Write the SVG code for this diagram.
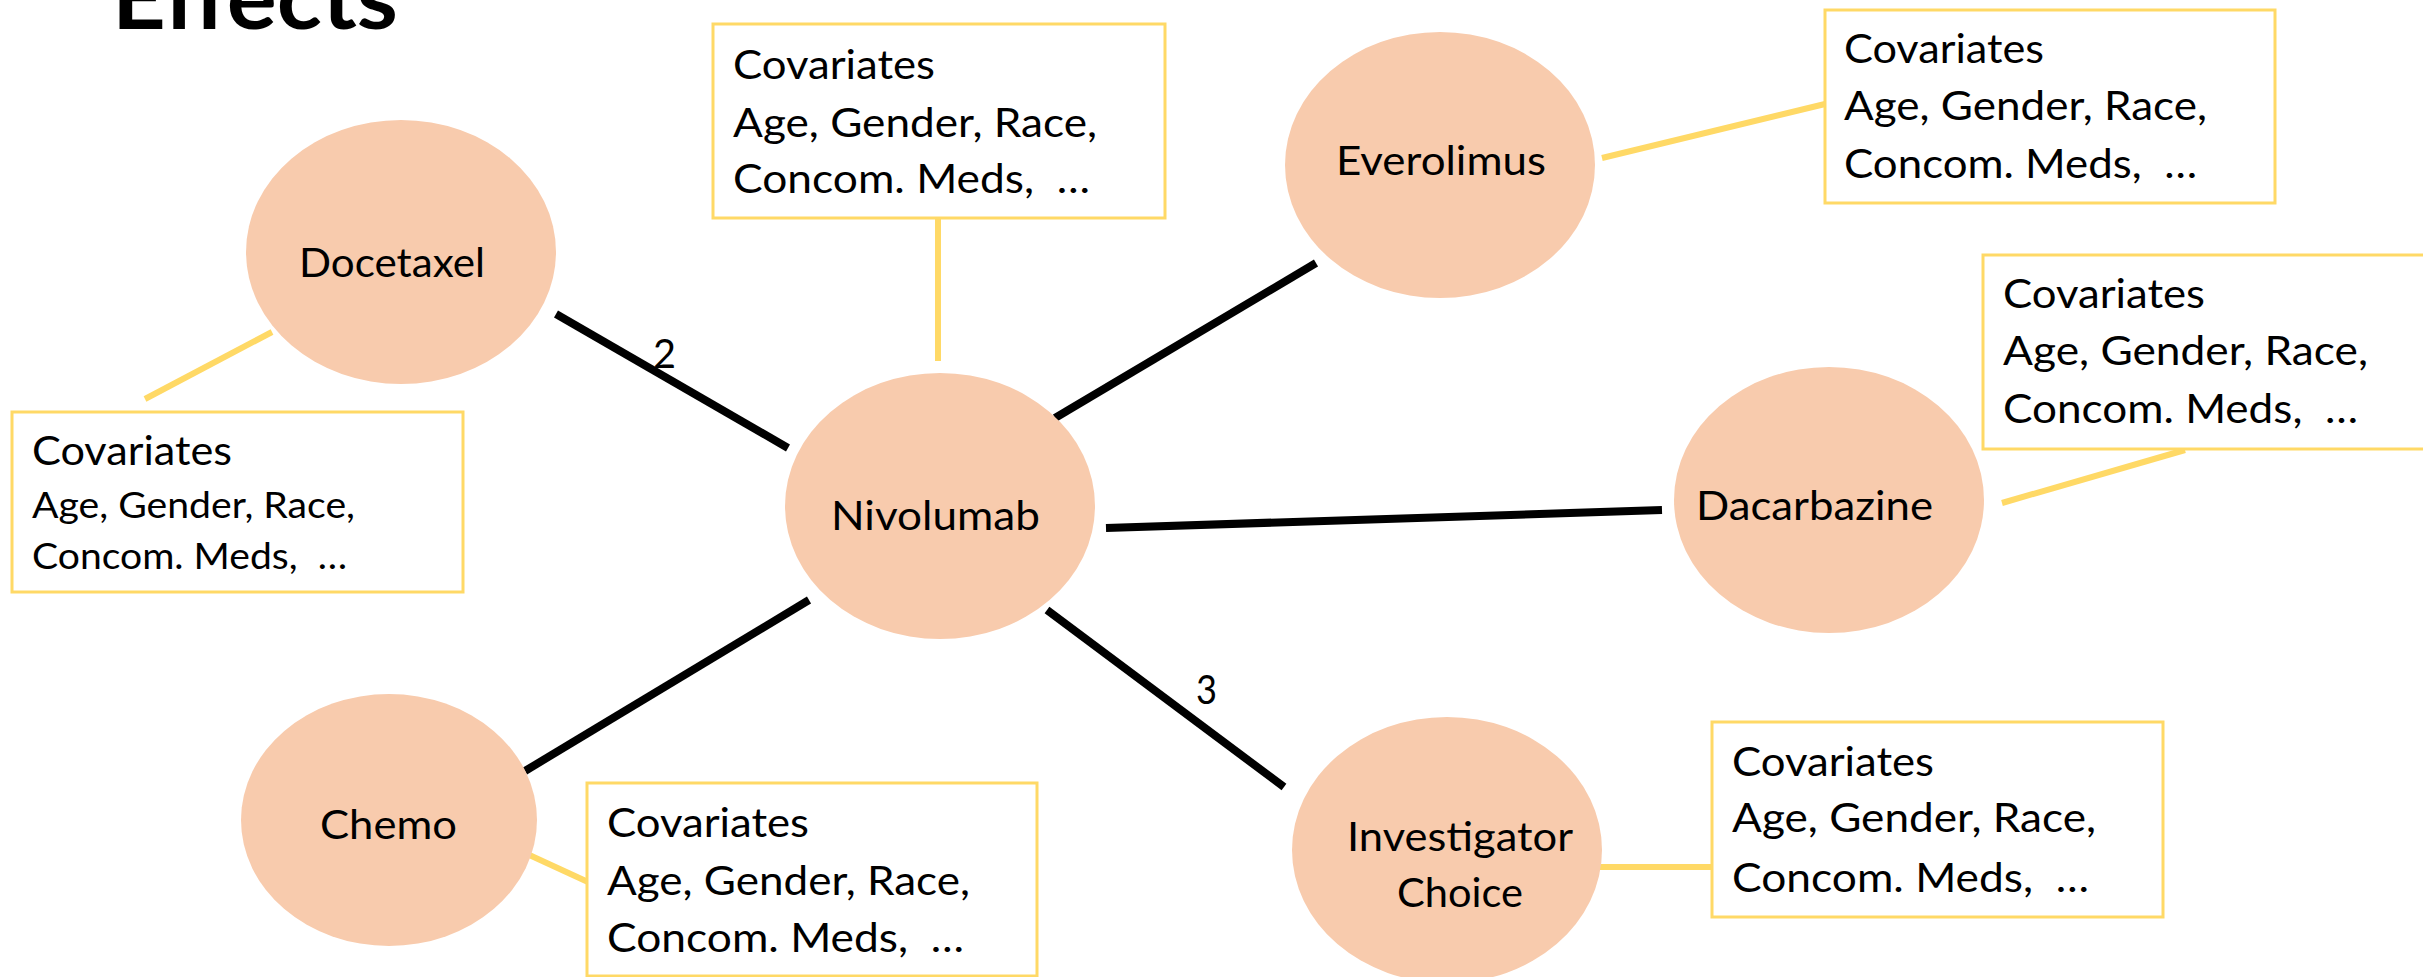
<svg xmlns="http://www.w3.org/2000/svg" width="2423" height="977" viewBox="0 0 2423 977">
<style>
.bg{fill:#ffffff}
.node{fill:#F8CBAD}
.box{fill:#ffffff;stroke:#FFD966;stroke-width:3}
.edge{stroke:#000000;stroke-width:8;stroke-linecap:butt;fill:none}
.link{stroke:#FFD966;stroke-width:6;stroke-linecap:butt;fill:none}
text{font-family:Lato,"Open Sans","Liberation Sans",sans-serif;fill:#000000}
.lbl{font-size:41.5px}
.big{font-size:41.5px}
.small{font-size:37px}
.title{font-size:88px;font-weight:bold}
</style>
<rect class="bg" x="0" y="0" width="2423" height="977"/>
<text id="title" class="title" x="112" y="29" textLength="286" lengthAdjust="spacingAndGlyphs">Effects</text>
<g id="connectors">
<line class="edge" x1="556" y1="314" x2="788" y2="448"/>
<line class="edge" x1="1055" y1="418" x2="1316" y2="263"/>
<line class="edge" x1="1106" y1="528" x2="1662" y2="510"/>
<line class="edge" x1="809" y1="600" x2="525" y2="771"/>
<line class="edge" x1="1047" y1="610" x2="1284" y2="787"/>
<line class="link" x1="272" y1="332" x2="145" y2="399"/>
<line class="link" x1="938" y1="218" x2="938" y2="361"/>
<line class="link" x1="1602" y1="158" x2="1825" y2="104"/>
<line class="link" x1="2002" y1="503" x2="2185" y2="450"/>
<line class="link" x1="525" y1="853" x2="588" y2="882"/>
<line class="link" x1="1593" y1="867" x2="1712" y2="867"/>
<text class="lbl" x="653" y="368" textLength="23" lengthAdjust="spacingAndGlyphs">2</text>
<text class="lbl" x="1196" y="704" textLength="21" lengthAdjust="spacingAndGlyphs">3</text>
</g>
<g id="docetaxel">
<ellipse class="node" cx="401" cy="252" rx="155" ry="132"/>
<text class="lbl" x="299" y="277" textLength="186" lengthAdjust="spacingAndGlyphs">Docetaxel</text>
</g>
<g id="nivolumab">
<ellipse class="node" cx="940" cy="506" rx="155" ry="133"/>
<text class="lbl" x="831" y="530" textLength="209" lengthAdjust="spacingAndGlyphs">Nivolumab</text>
</g>
<g id="everolimus">
<ellipse class="node" cx="1440" cy="165" rx="155" ry="133"/>
<text class="lbl" x="1336" y="175" textLength="210" lengthAdjust="spacingAndGlyphs">Everolimus</text>
</g>
<g id="dacarbazine">
<ellipse class="node" cx="1829" cy="500" rx="155" ry="133"/>
<text class="lbl" x="1696" y="520" textLength="237" lengthAdjust="spacingAndGlyphs">Dacarbazine</text>
</g>
<g id="chemo">
<ellipse class="node" cx="389" cy="820" rx="148" ry="126"/>
<text class="lbl" x="320" y="839" textLength="137" lengthAdjust="spacingAndGlyphs">Chemo</text>
</g>
<g id="investigator">
<ellipse class="node" cx="1447" cy="850" rx="155" ry="133"/>
<text class="lbl" x="1347" y="851" textLength="226" lengthAdjust="spacingAndGlyphs">Investigator</text>
<text class="lbl" x="1397" y="907" textLength="126" lengthAdjust="spacingAndGlyphs">Choice</text>
</g>
<g id="cov-docetaxel">
<rect class="box" x="12" y="412" width="451" height="180"/>
<text class="big" x="32" y="465" textLength="200" lengthAdjust="spacingAndGlyphs">Covariates</text>
<text class="small" x="32" y="518" textLength="323" lengthAdjust="spacingAndGlyphs">Age, Gender, Race,</text>
<text class="small" x="32" y="569" textLength="315" lengthAdjust="spacingAndGlyphs" xml:space="preserve">Concom. Meds,  …</text>
</g>
<g id="cov-nivolumab">
<rect class="box" x="713" y="24" width="452" height="194"/>
<text class="big" x="733" y="79" textLength="202" lengthAdjust="spacingAndGlyphs">Covariates</text>
<text class="big" x="733" y="137" textLength="364" lengthAdjust="spacingAndGlyphs">Age, Gender, Race,</text>
<text class="big" x="733" y="193" textLength="357" lengthAdjust="spacingAndGlyphs" xml:space="preserve">Concom. Meds,  …</text>
</g>
<g id="cov-everolimus">
<rect class="box" x="1825" y="10" width="450" height="193"/>
<text class="big" x="1844" y="63" textLength="200" lengthAdjust="spacingAndGlyphs">Covariates</text>
<text class="big" x="1844" y="120" textLength="363" lengthAdjust="spacingAndGlyphs">Age, Gender, Race,</text>
<text class="big" x="1844" y="178" textLength="353" lengthAdjust="spacingAndGlyphs" xml:space="preserve">Concom. Meds,  …</text>
</g>
<g id="cov-dacarbazine">
<rect class="box" x="1983" y="255" width="452" height="194"/>
<text class="big" x="2003" y="308" textLength="202" lengthAdjust="spacingAndGlyphs">Covariates</text>
<text class="big" x="2003" y="365" textLength="365" lengthAdjust="spacingAndGlyphs">Age, Gender, Race,</text>
<text class="big" x="2003" y="423" textLength="355" lengthAdjust="spacingAndGlyphs" xml:space="preserve">Concom. Meds,  …</text>
</g>
<g id="cov-chemo">
<rect class="box" x="587" y="783" width="450" height="193"/>
<text class="big" x="607" y="837" textLength="202" lengthAdjust="spacingAndGlyphs">Covariates</text>
<text class="big" x="607" y="895" textLength="363" lengthAdjust="spacingAndGlyphs">Age, Gender, Race,</text>
<text class="big" x="607" y="952" textLength="357" lengthAdjust="spacingAndGlyphs" xml:space="preserve">Concom. Meds,  …</text>
</g>
<g id="cov-investigator">
<rect class="box" x="1712" y="722" width="451" height="195"/>
<text class="big" x="1732" y="776" textLength="202" lengthAdjust="spacingAndGlyphs">Covariates</text>
<text class="big" x="1732" y="832" textLength="364" lengthAdjust="spacingAndGlyphs">Age, Gender, Race,</text>
<text class="big" x="1732" y="892" textLength="357" lengthAdjust="spacingAndGlyphs" xml:space="preserve">Concom. Meds,  …</text>
</g>
</svg>
